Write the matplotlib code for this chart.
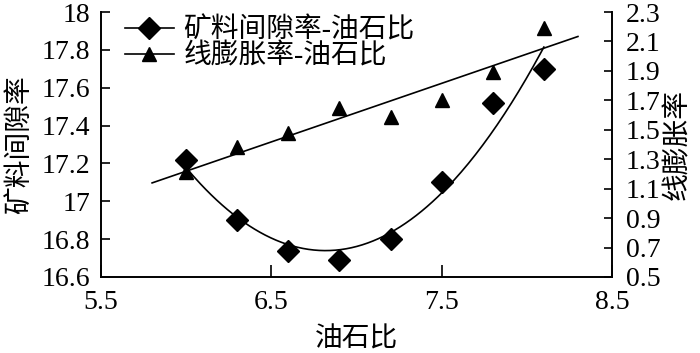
import numpy as np
import matplotlib
matplotlib.use("Agg")
import matplotlib.pyplot as plt
from matplotlib.lines import Line2D

plt.rcParams['font.family'] = ['Liberation Serif', 'Noto Sans CJK SC']
plt.rcParams['axes.unicode_minus'] = False

# Data
oil_ratio = [6.0, 6.3, 6.6, 6.9, 7.2, 7.5, 7.8, 8.1]
vma = [17.22, 16.90, 16.74, 16.69, 16.80, 17.10, 17.52, 17.70]          # 矿料间隙率
expansion = [1.21, 1.385, 1.476, 1.646, 1.589, 1.70, 1.895, 2.19]       # 线膨胀率
x_ticks = [5.5, 6.5, 7.5, 8.5]
left_ticks = [16.6, 16.8, 17.0, 17.2, 17.4, 17.6, 17.8, 18.0]
left_labels = ['16.6', '16.8', '17', '17.2', '17.4', '17.6', '17.8', '18']
right_ticks = [0.5, 0.7, 0.9, 1.1, 1.3, 1.5, 1.7, 1.9, 2.1, 2.3]
right_labels = ['0.5', '0.7', '0.9', '1.1', '1.3', '1.5', '1.7', '1.9', '2.1', '2.3']
label_vma = '矿料间隙率-油石比'
label_exp = '线膨胀率-油石比'

fs = 20
lw = 1.2

fig = plt.figure(figsize=(7.0, 3.53), dpi=100)
ax = fig.add_axes([101/700, 1-277/353, (612-101)/700, (277-12)/353])
ax2 = ax.twinx()

# VMA: markers + quadratic fit curve
xv = np.array(oil_ratio)
cv = np.polyfit(xv, vma, 2)
xs = np.linspace(min(oil_ratio), max(oil_ratio), 200)
ax.plot(xs, np.polyval(cv, xs), color='black', lw=lw)
ax.plot(oil_ratio, vma, ls='none', marker='D', ms=11, color='black')

# Expansion: markers + linear fit
ce = np.polyfit(xv, expansion, 1)
xl = np.array([5.8, 8.3])
ax2.plot(xl, np.polyval(ce, xl), color='black', lw=lw)
ax2.plot(oil_ratio, expansion, ls='none', marker='^', ms=10, color='black')

ax.set_xlim(5.5, 8.5)
ax.set_ylim(16.6, 18.0)
ax2.set_ylim(0.5, 2.3)
ax.set_xticks(x_ticks)
ax.set_xticklabels([str(t) for t in x_ticks], fontsize=fs)
ax.set_yticks(left_ticks)
ax.set_yticklabels(left_labels, fontsize=fs)
ax2.set_yticks(right_ticks)
ax2.set_yticklabels(right_labels, fontsize=fs)

for a in (ax, ax2):
    a.spines['top'].set_visible(False)
    for s in a.spines.values():
        s.set_linewidth(1.4)
ax.spines['right'].set_visible(False)
ax2.spines['left'].set_visible(False)
ax2.spines['bottom'].set_visible(False)

ax.tick_params(axis='y', direction='in', length=6.5, width=1.2, pad=8)
ax.tick_params(axis='x', direction='in', length=9, width=1.2, pad=9.5)
ax2.tick_params(axis='y', direction='in', length=6, width=1.2, pad=10)

ax.set_xlabel('油石比', fontsize=fs, labelpad=9)
ax.set_ylabel('矿料间隙率', fontsize=fs, labelpad=6)
ax2.set_ylabel('线膨胀率', fontsize=fs, labelpad=3)

handles = [Line2D([], [], color='black', lw=lw, marker='D', ms=11),
           Line2D([], [], color='black', lw=lw, marker='^', ms=10)]
leg = ax.legend(handles, [label_vma, label_exp], loc='upper left',
                bbox_to_anchor=(125/700, 1-17/353), bbox_transform=fig.transFigure,
                frameon=False, fontsize=fs, borderpad=0, borderaxespad=0,
                handlelength=1.75, handletextpad=0.35, labelspacing=0.0)

fig.savefig('out.png', dpi=100)
